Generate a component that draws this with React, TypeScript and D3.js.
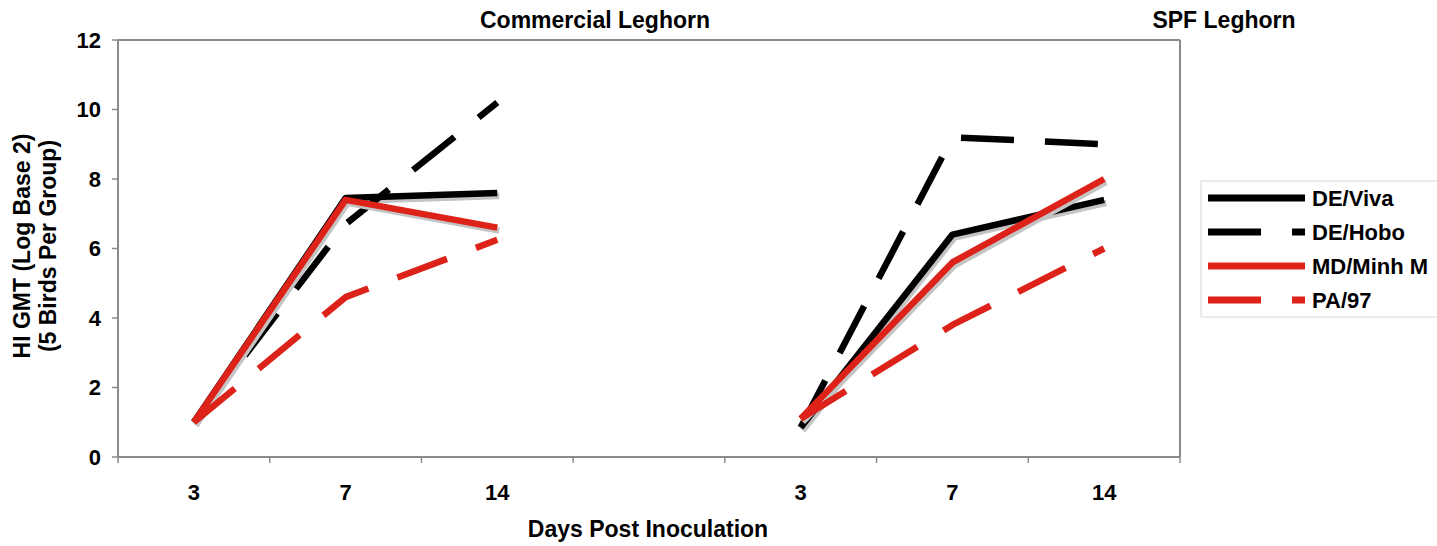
import React from "react";
import * as d3 from "d3";

const categories = ["C3", "C7", "C14", "GAP", "S3", "S7", "S14"];
const tickLabels = ["3", "7", "14", "", "3", "7", "14"];
const yTicks = [0, 2, 4, 6, 8, 10, 12];
const groupTitles = ["Commercial Leghorn", "SPF Leghorn"];
const commercialKeys = ["C3", "C7", "C14"];
const spfKeys = ["S3", "S7", "S14"];

const seriesNames = ["DE/Viva", "DE/Hobo", "MD/Minh M", "PA/97"];
const commercialValues = [
  [1.0, 7.45, 7.6],
  [1.0, 6.7, 10.2],
  [1.0, 7.4, 6.6],
  [1.0, 4.6, 6.25],
];
const spfValues = [
  [0.85, 6.4, 7.4],
  [0.85, 9.2, 9.0],
  [1.1, 5.6, 8.0],
  [1.1, 3.8, 6.0],
];

const RED = "#dd2219";
const styles = [
  { color: "#000000", dash: null, shadow: true },
  { color: "#000000", dash: "53,31", shadow: false },
  { color: RED, dash: null, shadow: true },
  { color: RED, dash: "53,31", shadow: false },
];

const W = 1437;
const H = 546;
const left = 118;
const right = 1180;
const top = 40;
const bottom = 457;
const FONT = "'Liberation Sans', Arial, sans-serif";
const AXIS = "#8a8a8a";

export default function App() {
  const x = d3.scaleBand<string>().domain(categories).range([left, right]).paddingInner(0).paddingOuter(0);
  const y = d3.scaleLinear().domain([0, 12]).range([bottom, top]);
  const bw = x.bandwidth();
  const cx = (k: string) => (x(k) as number) + bw / 2;

  const line = d3
    .line<[string, number]>()
    .x((d) => cx(d[0]))
    .y((d) => y(d[1]));

  const groups = [
    { keys: commercialKeys, values: commercialValues },
    { keys: spfKeys, values: spfValues },
  ];

  const paths: JSX.Element[] = [];
  seriesNames.forEach((name, si) => {
    const st = styles[si];
    groups.forEach((g, gi) => {
      const pts: [string, number][] = g.keys.map((k, i) => [k, g.values[si][i]]);
      const dStr = line(pts) || "";
      if (st.shadow) {
        paths.push(
          <path
            key={`sh-${si}-${gi}`}
            d={dStr}
            transform="translate(2,3)"
            fill="none"
            stroke="#c4c4c4"
            strokeWidth={6.5}
            strokeLinejoin="round"
          />
        );
      }
      paths.push(
        <path
          key={`ln-${si}-${gi}`}
          d={dStr}
          fill="none"
          stroke={st.color}
          strokeWidth={6.5}
          strokeDasharray={st.dash || undefined}
          strokeLinejoin="round"
        />
      );
    });
  });

  const edges = categories.map((c) => x(c) as number).concat([right]);
  const titleCenters = [595, 1224];

  const legX = 1201;
  const legY = 181;
  const rowY = [198, 232, 266, 300];

  return (
    <svg
      width={W}
      height={H}
      style={{ position: "absolute", left: 0, top: 0, background: "#fff", overflow: "hidden" }}
      fontFamily={FONT}
    >
      <rect x={0} y={0} width={W} height={H} fill="#fff" />
      <line x1={left} x2={right} y1={top} y2={top} stroke={AXIS} strokeWidth={2} />
      <line x1={right} x2={right} y1={top} y2={bottom} stroke={AXIS} strokeWidth={2} />
      <line x1={left} x2={left} y1={top} y2={bottom} stroke={AXIS} strokeWidth={2} />
      <line x1={left} x2={right} y1={bottom} y2={bottom} stroke={AXIS} strokeWidth={2} />
      {yTicks.map((t) => (
        <g key={`yt-${t}`}>
          <line x1={left - 6} x2={left} y1={y(t)} y2={y(t)} stroke={AXIS} strokeWidth={1.5} />
          <text
            x={101}
            y={y(t)}
            dy="0.36em"
            textAnchor="end"
            fontSize={22}
            fontWeight="bold"
            fill="#000"
          >
            {t}
          </text>
        </g>
      ))}
      {edges.map((e, i) => (
        <line key={`xt-${i}`} x1={e} x2={e} y1={bottom} y2={bottom + 6} stroke={AXIS} strokeWidth={1.5} />
      ))}
      {categories.map((c, i) => (
        <text
          key={`xl-${c}`}
          x={cx(c)}
          y={500}
          textAnchor="middle"
          fontSize={22}
          fontWeight="bold"
          fill="#000"
        >
          {tickLabels[i]}
        </text>
      ))}
      <text x={648} y={537} textAnchor="middle" fontSize={23} fontWeight="bold" fill="#000">
        Days Post Inoculation
      </text>
      {groupTitles.map((t, i) => (
        <text
          key={`gt-${i}`}
          x={titleCenters[i]}
          y={28}
          textAnchor="middle"
          fontSize={23}
          fontWeight="bold"
          fill="#000"
        >
          {t}
        </text>
      ))}
      <g transform="translate(30,246) rotate(-90)">
        <text x={0} y={0} textAnchor="middle" fontSize={23} fontWeight="bold" fill="#000">
          HI GMT (Log Base 2)
        </text>
        <text x={0} y={26} textAnchor="middle" fontSize={23} fontWeight="bold" fill="#000">
          (5 Birds Per Group)
        </text>
      </g>
      {paths}
      <rect x={legX} y={legY} width={300} height={136} fill="#fff" stroke="#d8d8d8" strokeWidth={1} />
      {seriesNames.map((n, i) => (
        <g key={`lg-${i}`}>
          <line
            x1={1208}
            x2={1305}
            y1={rowY[i]}
            y2={rowY[i]}
            stroke={styles[i].color}
            strokeWidth={7}
            strokeDasharray={styles[i].dash || undefined}
          />
          <text x={1312} y={rowY[i]} dy="0.36em" fontSize={22} fontWeight="bold" fill="#000">
            {n}
          </text>
        </g>
      ))}
    </svg>
  );
}
